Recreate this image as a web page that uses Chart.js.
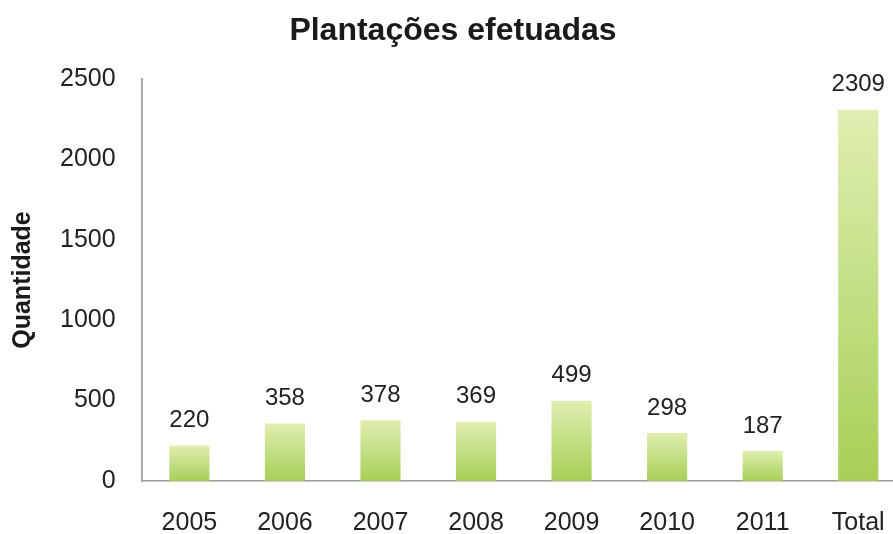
<!DOCTYPE html>
<html>
<head>
<meta charset="utf-8">
<title>Plantações efetuadas</title>
<script src="https://cdn.jsdelivr.net/npm/chart.js@4"></script>
<style>
  html, body { margin: 0; padding: 0; background: #fff; overflow: hidden; }
</style>
</head>
<body>
<canvas id="chart" width="906" height="534"></canvas>
<script>
const categories = ['2005', '2006', '2007', '2008', '2009', '2010', '2011', 'Total'];
const quantities = [220, 358, 378, 369, 499, 298, 187, 2309];
const yTicks = [0, 500, 1000, 1500, 2000, 2500];

const FONT = '"Liberation Sans", Arial, Helvetica, sans-serif';
const barTop = '#dfeeb1';
const barBottom = '#a7cf57';

// values written above each bar
const valueLabels = {
    id: 'valueLabels',
    afterDatasetsDraw(chart) {
        const ctx = chart.ctx;
        const meta = chart.getDatasetMeta(0);
        ctx.save();
        ctx.font = '24px ' + FONT;
        ctx.fillStyle = '#222';
        ctx.textAlign = 'center';
        ctx.textBaseline = 'middle';
        meta.data.forEach((bar, i) => {
            ctx.fillText(String(quantities[i]), bar.x, bar.y - 25);
        });
        ctx.restore();
    }
};

function barGradient(context) {
    const chart = context.chart;
    if (!chart.chartArea) return barBottom;
    const y = chart.scales.y;
    const top = y.getPixelForValue(quantities[context.dataIndex]);
    const base = y.getPixelForValue(0);
    const g = chart.ctx.createLinearGradient(0, top, 0, base);
    g.addColorStop(0, barTop);
    g.addColorStop(1, barBottom);
    return g;
}

const ctx = document.getElementById('chart').getContext('2d');
new Chart(ctx, {
    type: 'bar',
    data: {
        labels: categories,
        datasets: [{
            label: 'Quantidade',
            data: quantities,
            backgroundColor: barGradient,
            borderWidth: 0,
            barPercentage: 0.42,
            categoryPercentage: 1
        }]
    },
    options: {
        responsive: false,
        animation: false,
        devicePixelRatio: 1,
        // x labels sit lower than the scale box allows, so let it run past the bottom
        layout: { padding: { top: 0, left: 0, right: 0, bottom: -32 } },
        plugins: {
            legend: { display: false },
            tooltip: { enabled: false },
            title: {
                display: true,
                text: 'Plantações efetuadas',
                color: '#1a1a1a',
                font: { family: FONT, size: 32, weight: 'bold', lineHeight: 1.2 },
                padding: { top: 12, bottom: 28.6 }
            }
        },
        scales: {
            x: {
                grid: { display: false, drawTicks: false },
                border: { display: true, color: '#9a9a9a', width: 1.5 },
                ticks: {
                    color: '#222',
                    padding: 17.5,
                    font: { family: FONT, size: 25, lineHeight: 2 }
                }
            },
            y: {
                min: 0,
                max: 2500,
                afterBuildTicks(scale) {
                    scale.ticks = yTicks.map(v => ({ value: v }));
                },
                grid: { display: false, drawTicks: false },
                border: { display: true, color: '#a8a8a8', width: 2 },
                ticks: {
                    color: '#222',
                    padding: 26,
                    font: { family: FONT, size: 25, lineHeight: 1.2 },
                    callback: v => String(v)
                },
                title: {
                    display: true,
                    text: 'Quantidade',
                    color: '#1a1a1a',
                    font: { family: FONT, size: 25, weight: 'bold', lineHeight: 0.9 },
                    padding: { top: 11.5, bottom: 0 }
                }
            }
        }
    },
    plugins: [valueLabels]
});
</script>
</body>
</html>
